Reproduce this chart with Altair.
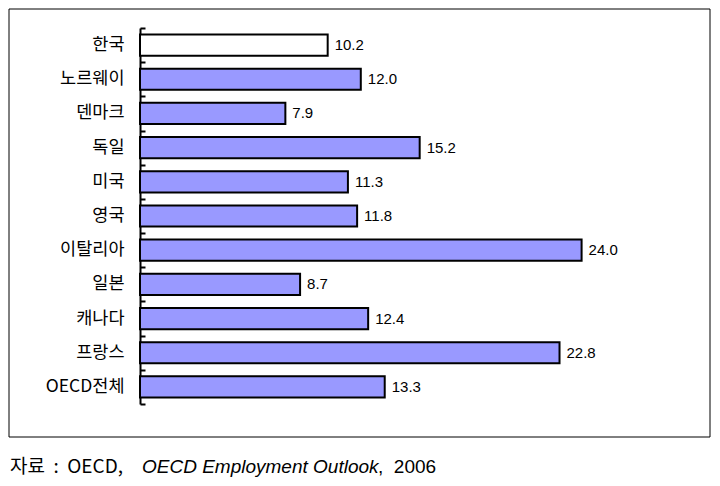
import altair as alt
import pandas as pd

countries = ["한국", "노르웨이", "덴마크", "독일", "미국", "영국", "이탈리아", "일본", "캐나다", "프랑스", "OECD전체"]
values = [10.2, 12.0, 7.9, 15.2, 11.3, 11.8, 24.0, 8.7, 12.4, 22.8, 13.3]
labels = ["10.2", "12.0", "7.9", "15.2", "11.3", "11.8", "24.0", "8.7", "12.4", "22.8", "13.3"]
highlight = ["korea"] + ["other"] * 10

df = pd.DataFrame({"country": countries, "value": values, "label": labels,
                   "group": highlight, "pos": list(range(len(countries)))})

W, H = 552, 376
FONT_KR = "'Noto Sans CJK KR', 'Liberation Sans', sans-serif"
FONT_LAT = "'Liberation Sans', 'Noto Sans CJK KR', sans-serif"
NB = "\u00a0"

yband = alt.Y("country:N", sort=countries,
              scale=alt.Scale(paddingInner=0.38, paddingOuter=0.19),
              axis=alt.Axis(title=None, ticks=False, domain=True, domainColor="black",
                            domainWidth=2, labelFont=FONT_KR, labelFontSize=17.5,
                            labelColor="black", labelPadding=16, grid=False))

base = alt.Chart(df)

bars = base.mark_bar(stroke="black", strokeWidth=2).encode(
    y=yband,
    x=alt.X("value:Q", scale=alt.Scale(domain=[0, 30]), axis=None),
    fill=alt.Fill("group:N", scale=alt.Scale(domain=["korea", "other"], range=["white", "#9999FF"]), legend=None),
)

texts = base.mark_text(align="left", baseline="middle", dx=7, font=FONT_LAT, fontSize=15, color="black").encode(
    y=alt.Y("country:N", sort=countries), x=alt.X("value:Q"), text="label:N"
)

main = alt.layer(bars, texts)

ticks = base.mark_point(opacity=0).encode(
    y=alt.Y("pos:Q", scale=alt.Scale(domain=[0, 11], reverse=True, nice=False, zero=False),
            axis=alt.Axis(orient="right", offset=-W, values=list(range(12)), labels=False,
                          ticks=True, tickSize=5, tickWidth=2, tickColor="black",
                          domain=False, grid=False, title=None)),
    x=alt.value(0),
)

one = base.transform_filter(alt.datum.pos == 0)

frame = one.mark_rect(fill=None, stroke="black", strokeWidth=1).encode(
    x=alt.value(-131), x2=alt.value(570), y=alt.value(-19), y2=alt.value(409)
)

foot1 = one.mark_text(align="left", baseline="middle", font=FONT_KR, fontSize=19, color="black").encode(
    x=alt.value(-130), y=alt.value(439), text=alt.value("자료" + NB * 2 + ":" + NB * 2 + "OECD,")
)
foot2 = one.mark_text(align="left", baseline="middle", font=FONT_LAT, fontSize=19, fontStyle="italic", color="black").encode(
    x=alt.value(2), y=alt.value(439), text=alt.value("OECD Employment Outlook")
)
foot3 = one.mark_text(align="left", baseline="middle", font=FONT_LAT, fontSize=19, color="black").encode(
    x=alt.value(238), y=alt.value(439), text=alt.value("," + NB * 2 + "2006")
)

chart = alt.layer(frame, main, ticks, foot1, foot2, foot3).resolve_scale(
    y="independent"
).properties(
    width=W, height=H,
    autosize=alt.AutoSizeParams(type="none"),
    padding={"left": 132, "top": 20, "right": 20, "bottom": 74},
).configure_view(stroke=None)

chart.save("out.html", embed_options={"renderer": "svg", "actions": False})
